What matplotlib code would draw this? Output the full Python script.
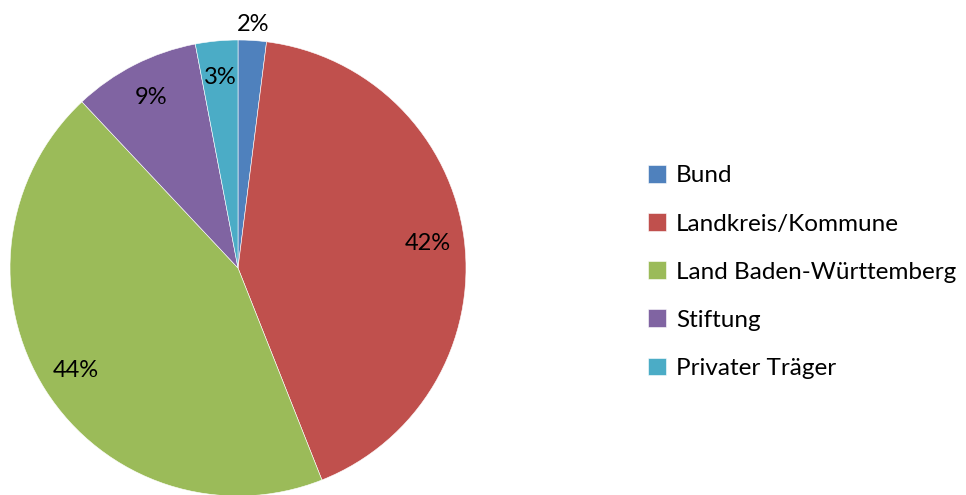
import matplotlib
matplotlib.use("Agg")
import matplotlib.pyplot as plt

# Daten
kategorien = ['Bund', 'Landkreis/Kommune', 'Land Baden-Württemberg', 'Stiftung', 'Privater Träger']
anteile = [2, 42, 44, 9, 3]
farben = ['#4F81BD', '#C0504D', '#9BBB59', '#8064A2', '#4BACC6']

plt.rcParams['font.family'] = ['Lato', 'DejaVu Sans']

fig = plt.figure(figsize=(9.66, 4.95), dpi=100)
ax = fig.add_axes([10 / 966, -1 / 495, 456 / 966, 456 / 495])

wedges, texte, pcts = ax.pie(
    anteile, colors=farben, startangle=90, counterclock=False,
    autopct='%1.0f%%', pctdistance=0.84, radius=1,
    wedgeprops=dict(edgecolor='white', linewidth=0.4),
    textprops=dict(fontsize=17, color='black'))

# kleines Segment: Beschriftung außerhalb
x, y = pcts[0].get_position()
pcts[0].set_position((x / 0.84 * 1.07, y / 0.84 * 1.07))

ax.set_xlim(-1, 1)
ax.set_ylim(-1, 1)

fig.legend(wedges, kategorien, loc='center left', bbox_to_anchor=(626 / 966, 1 - 272 / 495),
           frameon=False, fontsize=17.5, handlelength=0.75, handleheight=0.75,
           handletextpad=0.4, labelspacing=1.1)

fig.savefig('out.png', dpi=100)
